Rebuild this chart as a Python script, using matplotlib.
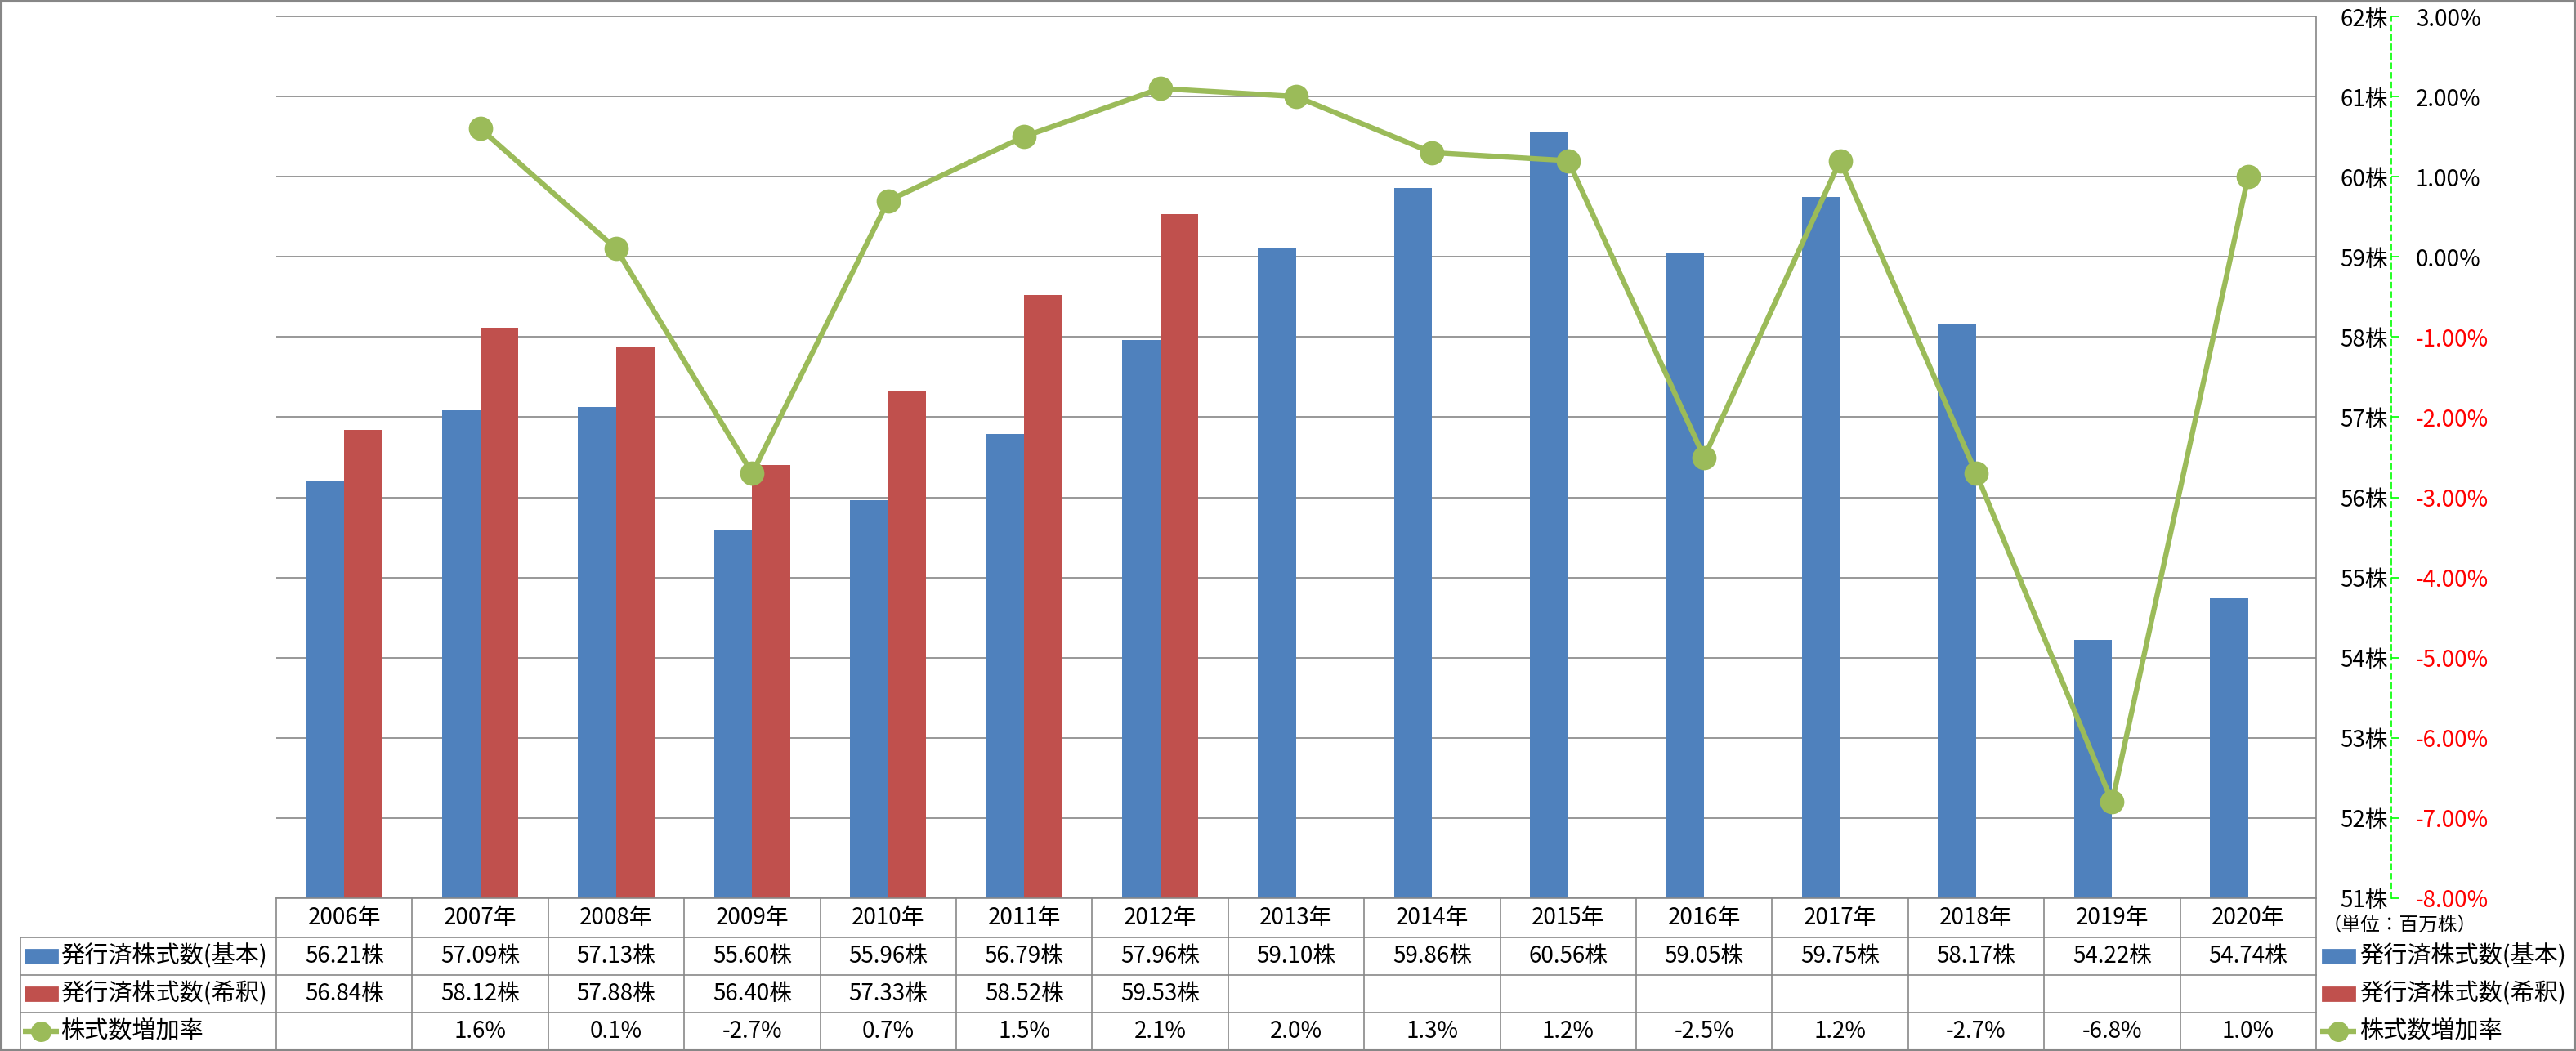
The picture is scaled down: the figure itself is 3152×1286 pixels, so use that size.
import matplotlib
matplotlib.use('Agg')
import matplotlib.pyplot as plt
import numpy as np
import matplotlib.transforms as mtransforms
from matplotlib.lines import Line2D
from matplotlib.patches import Rectangle
from matplotlib.ticker import FuncFormatter, FixedLocator

plt.rcParams['font.family'] = ['Noto Sans CJK JP', 'DejaVu Sans']

# ---------------- data ----------------
years = ['2006年', '2007年', '2008年', '2009年', '2010年', '2011年', '2012年', '2013年',
         '2014年', '2015年', '2016年', '2017年', '2018年', '2019年', '2020年']
basic = [56.21, 57.09, 57.13, 55.60, 55.96, 56.79, 57.96, 59.10,
         59.86, 60.56, 59.05, 59.75, 58.17, 54.22, 54.74]
diluted = [56.84, 58.12, 57.88, 56.40, 57.33, 58.52, 59.53,
           None, None, None, None, None, None, None, None]
growth = [None, 1.6, 0.1, -2.7, 0.7, 1.5, 2.1, 2.0,
          1.3, 1.2, -2.5, 1.2, -2.7, -6.8, 1.0]
series_labels = ['発行済株式数(基本)', '発行済株式数(希釈)', '株式数増加率']
left_ticks = list(range(51, 63))
right_ticks = list(range(-8, 4))
unit_label = '（単位：百万株）'

BLUE = '#4F81BD'
RED = '#C0504D'
GREEN = '#9BBB59'
GRID = '#868686'

W, H, DPI = 3152, 1286, 200
fig = plt.figure(figsize=(W / DPI, H / DPI), dpi=DPI)
fig.patch.set_facecolor('white')


def fx(px):
    return px / W


def fy(py):
    return 1 - py / H


PL, PR, PT, PB = 338, 2834, 20, 1099
ax = fig.add_axes([fx(PL), fy(PB), (PR - PL) / W, (PB - PT) / H])
ax2 = ax.twinx()

x = np.arange(len(years))
bw = 0.28
ax.bar(x - bw / 2, basic, width=bw, color=BLUE, zorder=2)
dx = [i for i, v in enumerate(diluted) if v is not None]
dv = [v for v in diluted if v is not None]
ax.bar(np.array(dx) + bw / 2, dv, width=bw, color=RED, zorder=2)
ax.set_xlim(-0.5, len(years) - 0.5)
ax.set_ylim(51, 62)

ax.set_axisbelow(True)
ax.yaxis.grid(True, color=GRID, lw=0.6)
for s in ['left', 'top', 'bottom']:
    ax.spines[s].set_visible(False)
ax.spines['right'].set_color(GRID)
ax.spines['right'].set_linewidth(0.6)
ax.tick_params(axis='x', length=0, labelbottom=False)
ax.yaxis.set_major_locator(FixedLocator(left_ticks))
ax.yaxis.set_major_formatter(FuncFormatter(lambda v, p: f'{int(round(v))}株'))
ax.tick_params(axis='y', left=False, right=False, labelleft=False, labelright=True,
               length=0, pad=31.7, labelsize=10)
for t in ax.yaxis.get_major_ticks():
    t.label2.set_horizontalalignment('right')

ax2.plot(x, [np.nan if g is None else g for g in growth], color=GREEN, lw=2.3,
         marker='o', ms=9.7, markerfacecolor=GREEN, markeredgecolor=GREEN, zorder=3)
ax2.set_ylim(-8, 3)
for s in ['left', 'top', 'bottom']:
    ax2.spines[s].set_visible(False)
ax2.spines['right'].set_position(('axes', (2926 - PL) / (PR - PL)))
ax2.spines['right'].set_color('#00FF00')
ax2.spines['right'].set_linestyle((0, (4, 3)))
ax2.spines['right'].set_linewidth(0.6)
ax2.yaxis.set_major_locator(FixedLocator(right_ticks))
ax2.yaxis.set_major_formatter(FuncFormatter(lambda v, p: f'{v:.2f}%'))
ax2.tick_params(axis='y', length=3.3, width=0.6, color='#00FF00', pad=7.5,
                labelsize=10, direction='out')
ax2.tick_params(axis='x', length=0, labelbottom=False)
for t, v in zip(ax2.yaxis.get_major_ticks(), right_ticks):
    t.label2.set_color('red' if v < 0 else 'black')

# ---------------- data table ----------------
T = mtransforms.blended_transform_factory(ax.transData, fig.transFigure)
LINEC = '#898989'
LW = 0.6
row_edges = [1099, 1147, 1193, 1239, 1285]
row_centers = [(row_edges[i] + row_edges[i + 1]) / 2 for i in range(4)]
xr = ax.get_position().x1

for i in range(len(years) + 1):
    fig.add_artist(Line2D([i - 0.5, i - 0.5], [fy(1099), fy(1285)], transform=T,
                          color=LINEC, lw=LW))
fig.add_artist(Line2D([-0.5, len(years) - 0.5], [fy(1099), fy(1099)], transform=T,
                      color=LINEC, lw=LW))
for yy in row_edges[1:4]:
    fig.add_artist(Line2D([fx(25), xr], [fy(yy), fy(yy)], transform=fig.transFigure,
                          color=LINEC, lw=LW))
fig.add_artist(Line2D([fx(25), fx(25)], [fy(1147), fy(1285)], transform=fig.transFigure,
                      color=LINEC, lw=LW))

for i, yl in enumerate(years):
    fig.text(i, fy(row_centers[0]), yl, transform=T, ha='center', va='center', fontsize=10)
    fig.text(i, fy(row_centers[1]), f'{basic[i]:.2f}株', transform=T,
             ha='center', va='center', fontsize=10)
    if diluted[i] is not None:
        fig.text(i, fy(row_centers[2]), f'{diluted[i]:.2f}株', transform=T,
                 ha='center', va='center', fontsize=10)
    if growth[i] is not None:
        fig.text(i, fy(row_centers[3]), f'{growth[i]:.1f}%', transform=T,
                 ha='center', va='center', fontsize=10)


# ---------------- legends (left in table, right of chart) ----------------
def legend_block(x0, xt):
    for k, (col, lab) in enumerate(zip([BLUE, RED], series_labels[:2])):
        yc = row_centers[k + 1]
        fig.add_artist(Rectangle((fx(x0), fy(yc + 8)), 39 / W, 16 / H,
                                 transform=fig.transFigure, color=col))
        fig.text(fx(xt), fy(yc), lab, ha='left', va='center', fontsize=10.5)
    yc = row_centers[3]
    fig.add_artist(Line2D([fx(x0 - 3), fx(x0 + 41)], [fy(yc), fy(yc)],
                          transform=fig.transFigure, color=GREEN, lw=2.3,
                          solid_capstyle='butt'))
    fig.add_artist(Line2D([fx(x0 + 19)], [fy(yc)], transform=fig.transFigure,
                          color=GREEN, marker='o', ms=8, lw=0))
    fig.text(fx(xt), fy(yc), series_labels[2], ha='left', va='center', fontsize=10.5)


legend_block(31, 74)
legend_block(2842, 2887)

fig.text(fx(2936), fy(1132), unit_label, ha='center', va='center', fontsize=8.5)

fig.add_artist(Rectangle((0, 0), 1, 1, transform=fig.transFigure, fill=False,
                         edgecolor='#878787', lw=2.2))

fig.savefig('out.png', dpi=DPI, facecolor='white')
